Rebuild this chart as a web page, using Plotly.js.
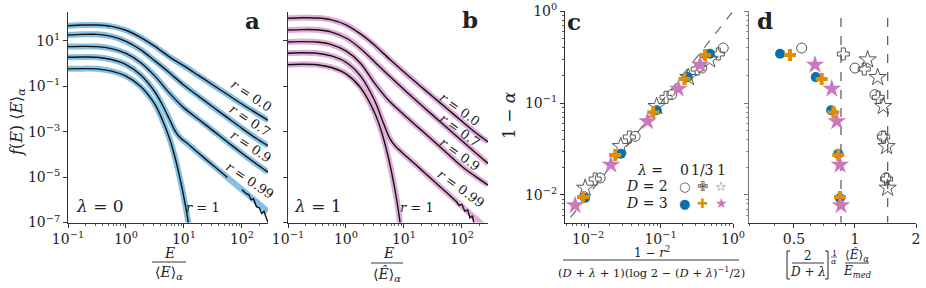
<!DOCTYPE html>
<html><head><meta charset="utf-8">
<script src="https://cdn.plot.ly/plotly-3.0.1.min.js"></script>
<style>html,body{margin:0;padding:0;background:#fff}#chart{width:926px;height:288px}</style>
</head><body><div id="chart"></div>
<script>
// ================= DATA =================
// Panels a/b: log10(E/<E>) grid and log10 f(E)<E> values
const gridLogE = [-1,-0.75,-0.5,-0.25,0,0.25,0.5,0.75,1,1.25,1.5,1.75,2,2.25,2.45];
// panel a, lambda = 0
const a_r00 = [1.67,1.70,1.70,1.64,1.47,1.16,0.76,0.30,-0.10,-0.52,-0.94,-1.36,-1.78,-2.18,-2.50];
const a_r07 = [1.26,1.29,1.29,1.20,0.98,0.62,0.12,-0.40,-0.95,-1.43,-1.91,-2.38,-2.85,-3.30,-3.62];
const a_r09 = [0.75,0.76,0.75,0.66,0.45,0.05,-0.55,-1.30,-1.95,-2.45,-2.95,-3.45,-3.95,-4.42,-4.78];
const a_r099_logE = [-1,-0.75,-0.5,-0.25,0,0.25,0.5,0.625,0.75,0.85,0.95,1.05,1.25,1.5,1.75,2,2.25,2.45];
const a_r099 = [0.28,0.29,0.28,0.18,-0.04,-0.49,-1.25,-1.80,-2.45,-2.98,-3.30,-3.50,-3.94,-4.48,-5.02,-5.55,-6.09,-6.52];
const a_r1_logE = [-1,-0.75,-0.5,-0.25,0,0.25,0.5,0.625,0.75,0.85,0.95,1.0,1.05,1.1];
const a_r1 = [-0.23,-0.22,-0.23,-0.33,-0.55,-1.0,-1.8,-2.46,-3.29,-4.17,-5.27,-5.90,-6.60,-7.38];
const a_sim099_logE = [2.0,2.07,2.12,2.16,2.2,2.25,2.3,2.34,2.38,2.42,2.45];
const a_sim099 = [-5.55,-5.72,-5.78,-6.0,-5.95,-6.3,-6.35,-6.6,-6.5,-6.85,-7.0];
// panel b, lambda = 1
const b_r00 = [2.00,2.02,2.01,1.93,1.71,1.31,0.80,0.20,-0.37,-0.92,-1.46,-2.00,-2.54,-3.07,-3.45];
const b_r07 = [1.48,1.50,1.49,1.39,1.13,0.67,0.06,-0.55,-1.14,-1.71,-2.28,-2.84,-3.40,-3.96,-4.40];
const b_r09 = [0.95,0.97,0.95,0.84,0.56,0.02,-0.88,-1.66,-2.25,-2.82,-3.39,-3.96,-4.53,-5.00,-5.35];
const b_r099_logE = [-1,-0.75,-0.5,-0.25,0,0.25,0.5,0.625,0.75,0.85,1,1.25,1.5,1.75,2,2.25,2.45];
const b_r099 = [0.46,0.48,0.46,0.34,0.06,-0.54,-1.66,-2.48,-3.27,-3.63,-3.99,-4.56,-5.14,-5.71,-6.29,-6.86,-7.32];
const b_r1_logE = [-1,-0.75,-0.5,-0.25,0,0.25,0.5,0.625,0.75,0.875,0.95];
const b_r1 = [-0.05,-0.03,-0.05,-0.17,-0.45,-1.05,-2.2,-3.1,-4.35,-6.0,-7.3];
const b_sim099_logE = [1.9,1.95,2.0,2.05,2.1,2.14,2.18,2.22];
const b_sim099 = [-6.06,-6.25,-6.2,-6.5,-6.45,-6.8,-6.7,-7.2];
const curveLabels = ['r = 0.0','r = 0.7','r = 0.9','r = 0.99'];

// Panels c/d: points ordered r = 0.99, 0.97, 0.9, 0.7, 0
const oneMinusAlpha_D3_l0   = [0.00925,0.0281,0.0836,0.192,0.345];
const oneMinusAlpha_D3_l13  = [0.00948,0.0272,0.0794,0.183,0.334];
const oneMinusAlpha_D3_l1   = [0.0077,0.0213,0.0634,0.1435,0.262];
const oneMinusAlpha_D2_l0   = [0.0153,0.0435,0.1236,0.241,0.398];
const oneMinusAlpha_D2_l13  = [0.0149,0.0428,0.1156,0.235,0.343];
const oneMinusAlpha_D2_l1   = [0.0119,0.0338,0.0923,0.191,0.297];
const cX_D3_l0  = [0.00904,0.0284,0.0883,0.237,0.481];
const cX_D3_l13 = [0.0085,0.0236,0.0794,0.214,0.411];
const cX_D3_l1  = [0.0066,0.0206,0.066,0.176,0.351];
const cX_D2_l0  = [0.01466,0.0445,0.1426,0.37,0.734];
const cX_D2_l13 = [0.0125,0.037,0.119,0.32,0.626];
const cX_D2_l1  = [0.0091,0.0282,0.0883,0.242,0.475];
const dX_D3_l0  = [0.843,0.827,0.762,0.640,0.427];
const dX_D3_l13 = [0.843,0.827,0.782,0.685,0.478];
const dX_D3_l1  = [0.853,0.843,0.813,0.768,0.635];
const dX_D2_l0  = [1.421,1.363,1.254,1.0,0.546];
const dX_D2_l13 = [1.432,1.385,1.303,1.111,0.876];
const dX_D2_l1  = [1.449,1.432,1.379,1.294,1.155];
const theoryLineX = [0.004,1];
const theoryLineY = [0.004,1];
const dRefLines = [0.853,1.45];

// tick labels
const abXTicks = [0.1,1,10,100];
const abXText = ['10<sup>−1</sup>','10<sup>0</sup>','10<sup>1</sup>','10<sup>2</sup>'];
const abYTicks = [1e-7,1e-5,1e-3,1e-1,10];
const abYText = ['10<sup>−7</sup>','10<sup>−5</sup>','10<sup>−3</sup>','10<sup>−1</sup>','10<sup>1</sup>'];
const cTicks = [0.01,0.1,1];
const cText = ['10<sup>−2</sup>','10<sup>−1</sup>','10<sup>0</sup>'];
const dXTicks = [0.5,1,2];
const dXText = ['0.5','1','2'];

// ================= DRAWING =================
const W=926,H=288;
const PX=x=>x/W, PY=y=>1-y/H;
const pw=v=>v.map(t=>Math.pow(10,t));
const SERIF='DejaVu Serif';
const BAND_A='#86c0e4', BAND_B='#e2aed9';
const traces=[];
function curve(logE,logF,xa,ya,band){
  traces.push({x:pw(logE),y:pw(logF),xaxis:xa,yaxis:ya,mode:'lines',line:{color:band,width:6,shape:'spline',smoothing:0.8},hoverinfo:'skip'});
}
function blk(logE,logF,xa,ya,shape){
  traces.push({x:pw(logE),y:pw(logF),xaxis:xa,yaxis:ya,mode:'lines',line:{color:'#111',width:1.4,shape:shape||'spline',smoothing:0.8},hoverinfo:'skip'});
}
// panel a
[[gridLogE,a_r00],[gridLogE,a_r07],[gridLogE,a_r09],[a_r099_logE,a_r099],[a_r1_logE,a_r1]].forEach(c=>curve(c[0],c[1],'x','y',BAND_A));
[[gridLogE,a_r00],[gridLogE,a_r07],[gridLogE,a_r09],[a_r1_logE,a_r1]].forEach(c=>blk(c[0],c[1],'x','y'));
(function(){const ix=a_r099_logE.filter(v=>v<a_sim099_logE[0]);blk(ix,a_r099.slice(0,ix.length),'x','y');
 blk(a_sim099_logE,a_sim099,'x','y','linear');})();
// panel b
[[gridLogE,b_r00],[gridLogE,b_r07],[gridLogE,b_r09],[b_r099_logE,b_r099],[b_r1_logE,b_r1]].forEach(c=>curve(c[0],c[1],'x2','y2',BAND_B));
[[gridLogE,b_r00],[gridLogE,b_r07],[gridLogE,b_r09],[b_r1_logE,b_r1]].forEach(c=>blk(c[0],c[1],'x2','y2'));
(function(){const ix=b_r099_logE.filter(v=>v<b_sim099_logE[0]);blk(ix.concat([b_sim099_logE[0]]),b_r099.slice(0,ix.length).concat([b_sim099[0]]),'x2','y2');
 blk(b_sim099_logE,b_sim099,'x2','y2','linear');})();

// panel c: theory line
traces.push({x:theoryLineX,y:theoryLineY,xaxis:'x3',yaxis:'y3',mode:'lines',line:{color:'#666',width:1.2,dash:'dash'},hoverinfo:'skip'});
// panel d reference lines
dRefLines.forEach(v=>traces.push({x:[v,v],y:[0.003,1.2],xaxis:'x4',yaxis:'y4',mode:'lines',line:{color:'#555',width:1.2,dash:'dash'},hoverinfo:'skip'}));

const BLUE='#0173B2',ORANGE='#DE8F05',PINK='#CC78BC',GREY='#555';
const series=[
 {cx:cX_D2_l0,dx:dX_D2_l0,y:oneMinusAlpha_D2_l0,sym:'circle-open',size:10,color:GREY},
 {cx:cX_D2_l13,dx:dX_D2_l13,y:oneMinusAlpha_D2_l13,sym:'cross-open',size:10,color:GREY},
 {cx:cX_D2_l1,dx:dX_D2_l1,y:oneMinusAlpha_D2_l1,sym:'star-open',size:13,color:GREY},
 {cx:cX_D3_l0,dx:dX_D3_l0,y:oneMinusAlpha_D3_l0,sym:'circle',size:10,color:BLUE},
 {cx:cX_D3_l13,dx:dX_D3_l13,y:oneMinusAlpha_D3_l13,sym:'cross',size:10,color:ORANGE},
 {cx:cX_D3_l1,dx:dX_D3_l1,y:oneMinusAlpha_D3_l1,sym:'star',size:14,color:PINK}
];
series.forEach(s=>{
  const open=s.sym.indexOf('open')>=0;
  const mk={symbol:s.sym,size:s.size,color:s.color,line:{width:open?1:0,color:s.color}};
  traces.push({x:s.cx,y:s.y,xaxis:'x3',yaxis:'y3',mode:'markers',marker:mk,cliponaxis:false,hoverinfo:'skip'});
  traces.push({x:s.dx,y:s.y,xaxis:'x4',yaxis:'y4',mode:'markers',marker:mk,cliponaxis:false,hoverinfo:'skip'});
});

// ------------- axes -------------
function minorVals(lo,hi){const out=[];for(let e=lo;e<=hi;e++){for(let m=2;m<=9;m++)out.push(m*Math.pow(10,e));}return out;}
const base={showline:true,linecolor:'#333',linewidth:1,ticks:'outside',ticklen:4,tickwidth:1,tickcolor:'#333',
  showgrid:false,zeroline:false,tickfont:{family:SERIF,size:14,color:'#222'},tickmode:'array'};
const minorX={ticks:'outside',ticklen:2,tickwidth:0.8,tickcolor:'#333',tickmode:'array',showgrid:false};
const yDomAB=[PY(222.5),PY(12)], yDomCD=[PY(222.5),PY(11.3)];
const layout={
  width:W,height:H,margin:{l:0,r:0,t:0,b:0},paper_bgcolor:'#fff',plot_bgcolor:'rgba(0,0,0,0)',showlegend:false,
  font:{family:SERIF,size:14,color:'#222'},
  xaxis:Object.assign({},base,{domain:[PX(68),PX(268)],anchor:'y',type:'log',range:[-1,2.45],tickvals:abXTicks,ticktext:abXText,
     minor:Object.assign({},minorX,{tickvals:minorVals(-1,2)})}),
  yaxis:Object.assign({},base,{domain:yDomAB,anchor:'x',type:'log',range:[-7,2.275],tickvals:abYTicks,ticktext:abYText}),
  xaxis2:Object.assign({},base,{domain:[PX(288),PX(488)],anchor:'y2',type:'log',range:[-1,2.45],tickvals:abXTicks,ticktext:abXText,
     minor:Object.assign({},minorX,{tickvals:minorVals(-1,2)})}),
  yaxis2:Object.assign({},base,{domain:yDomAB,anchor:'x2',type:'log',range:[-7,2.275],tickvals:abYTicks,ticktext:abYText,showticklabels:false}),
  xaxis3:Object.assign({},base,{domain:[PX(565),PX(733)],anchor:'y3',type:'log',range:[-2.32,0],tickvals:cTicks,ticktext:cText,
     minor:Object.assign({},minorX,{tickvals:minorVals(-3,-1)})}),
  yaxis3:Object.assign({},base,{domain:yDomCD,anchor:'x3',type:'log',range:[-2.3,0],tickvals:cTicks,ticktext:cText,
     minor:Object.assign({},minorX,{tickvals:minorVals(-3,-1)})}),
  xaxis4:Object.assign({},base,{domain:[PX(749),PX(916)],anchor:'y4',type:'log',range:[Math.log10(0.3),Math.log10(2)],tickvals:dXTicks,ticktext:dXText,
     minor:Object.assign({},minorX,{tickvals:[0.3,0.4,0.6,0.7,0.8,0.9]})}),
  yaxis4:Object.assign({},base,{domain:yDomCD,anchor:'x4',type:'log',range:[-2.3,0],tickvals:cTicks,ticktext:cText,showticklabels:false,
     linecolor:'#777',tickcolor:'#777',minor:Object.assign({},minorX,{tickvals:minorVals(-3,-1),tickcolor:'#777'})}),
  annotations:[],shapes:[]
};
const A=layout.annotations,S=layout.shapes;
function txt(t,x,y,size,o){A.push(Object.assign({text:t,x:PX(x),y:PY(y),xref:'paper',yref:'paper',showarrow:false,
  font:{family:SERIF,size:size,color:'#222'},xanchor:'center',yanchor:'middle'},o||{}));}
function hline(x0,x1,y,w){S.push({type:'line',xref:'paper',yref:'paper',x0:PX(x0),x1:PX(x1),y0:PY(y),y1:PY(y),line:{color:'#222',width:w||1}});}

// panel letters
txt('<b>a</b>',252,21,23); txt('<b>b</b>',470,20,23); txt('<b>c</b>',574,22,23); txt('<b>d</b>',765,21,23);
// lambda labels
txt('<i>λ</i> = 0',100,206,17); txt('<i>λ</i> = 1',318,206,17);
txt('<i>r</i> = 1',203,207,13); txt('<i>r</i> = 1',417,207,13);
const labA=[[251,96],[250,120],[251,146],[250,180]], labB=[[460,109],[460,130],[460,154],[461,188]];
curveLabels.forEach((l,i)=>{const t=l.replace('r','<i>r</i>');
  txt(t,labA[i][0],labA[i][1],13,{textangle:34}); txt(t,labB[i][0],labB[i][1],13,{textangle:36});});
// axis titles a/b
txt('<i>f</i>(<i>E</i>) ⟨<i>E</i>⟩<sub><i>α</i></sub>',17,122,16,{textangle:-90});
txt('<i>E</i>',169,253,14); hline(152,186,262,0.9); txt('⟨<i>E</i>⟩<sub><i>α</i></sub>',169,273,14);
txt('<i>E</i>',388,253,14); hline(371,403,263,0.9); txt('⟨<i>Ê</i>⟩<sub><i>α</i></sub>',387,274,14);
// panel c titles
txt('1 − <i>α</i>',509,115,17,{textangle:-90});
txt('1 − <i>r</i><sup>2</sup>',652,252,12); hline(563,739,260,0.9);
txt('(<i>D</i> + <i>λ</i> + 1)(log 2 − (<i>D</i> + <i>λ</i>)<sup>−1</sup>/2)',651,272,11.5);
// legend in c
txt('<i>λ</i> = ',670,170,14,{xanchor:'right'});
txt('0',684,170,14); txt('1/3',702,170,14); txt('1',721,170,14);
txt('<i>D</i> = 2',670,186,14,{xanchor:'right'}); txt('<i>D</i> = 3',670,203,14,{xanchor:'right'});
const symFont='DejaVu Sans';
[['○',684,186,GREY,13],['✙',702,186,GREY,13],['☆',721,186,GREY,13],['●',684,203,BLUE,13],['✚',702,203,ORANGE,13],['★',721,203,PINK,14]]
 .forEach(s=>A.push({text:s[0],x:PX(s[1]),y:PY(s[2]),xref:'paper',yref:'paper',showarrow:false,font:{family:symFont,size:s[4],color:s[3]},xanchor:'center',yanchor:'middle'}));
// panel d title
S.push({type:'path',xref:'paper',yref:'paper',path:`M ${PX(790)} ${PY(251)} L ${PX(787)} ${PY(251)} L ${PX(787)} ${PY(279)} L ${PX(790)} ${PY(279)}`,line:{color:'#222',width:1}});
S.push({type:'path',xref:'paper',yref:'paper',path:`M ${PX(825)} ${PY(251)} L ${PX(828)} ${PY(251)} L ${PX(828)} ${PY(279)} L ${PX(825)} ${PY(279)}`,line:{color:'#222',width:1}});
txt('2',808,256,12); hline(792,824,263,0.9); txt('<i>D</i> + <i>λ</i>',808,272,12);
txt('1',834,253,8); hline(831,837,257,0.7); txt('<i>α</i>',834,261,8);
txt('⟨<i>Ê</i>⟩<sub><i>α</i></sub>',857,255,12); hline(845,869,263,0.9); txt('<i>E</i><sub><i>med</i></sub>',857,272,12);

Plotly.newPlot('chart',traces,layout,{staticPlot:true,displayModeBar:false});
</script></body></html>
